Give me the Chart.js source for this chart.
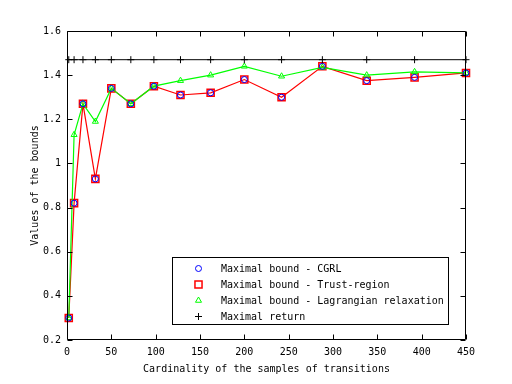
<!DOCTYPE html>
<html>
<head>
<meta charset="utf-8">
<script src="https://cdn.jsdelivr.net/npm/chart.js@4/dist/chart.umd.min.js"></script>
<style>
html,body{margin:0;padding:0;background:#fff;}
canvas{display:block;}
</style>
</head>
<body>
<canvas id="c" width="512" height="384"></canvas>
<script>
const samples = [2, 8, 18, 32, 50, 72, 98, 128, 162, 200, 242, 288, 338, 392, 450];
const cgrl = [0.30, 0.82, 1.27, 0.93, 1.34, 1.27, 1.35, 1.31, 1.32, 1.38, 1.30, 1.44, 1.375, 1.39, 1.41];
const trustRegion = [0.30, 0.82, 1.27, 0.93, 1.34, 1.27, 1.35, 1.31, 1.32, 1.38, 1.30, 1.44, 1.375, 1.39, 1.41];
const lagrangian = [0.30, 1.13, 1.27, 1.19, 1.34, 1.27, 1.35, 1.375, 1.40, 1.44, 1.395, 1.435, 1.40, 1.415, 1.41];
const maxReturn = [1.47, 1.47, 1.47, 1.47, 1.47, 1.47, 1.47, 1.47, 1.47, 1.47, 1.47, 1.47, 1.47, 1.47, 1.47];
const xTicks = [0, 50, 100, 150, 200, 250, 300, 350, 400, 450];
const yTicks = [0.2, 0.4, 0.6, 0.8, 1, 1.2, 1.4, 1.6];
const labels = ['Maximal bound - CGRL', 'Maximal bound - Trust-region', 'Maximal bound - Lagrangian relaxation', 'Maximal return'];

const FONT = {family: '"DejaVu Sans Mono", monospace', size: 10};
const pts = arr => arr.map((v, i) => ({x: samples[i], y: v}));

const frame = {
  id: 'frame',
  afterDatasetsDraw(chart) {
    const {ctx, chartArea: a, scales} = chart;
    ctx.save();
    ctx.strokeStyle = '#000';
    ctx.lineWidth = 1;
    const L = Math.round(a.left) + 0.5, R = Math.round(a.right) - 0.5;
    const T = Math.round(a.top) + 0.5, B = Math.round(a.bottom) - 0.5;
    ctx.beginPath();
    ctx.rect(L, T, R - L, B - T);
    const tl = 5;
    xTicks.forEach(v => {
      const x = Math.round(scales.x.getPixelForValue(v)) + 0.5;
      ctx.moveTo(x, B); ctx.lineTo(x, B - tl);
      ctx.moveTo(x, T); ctx.lineTo(x, T + tl);
    });
    yTicks.forEach(v => {
      const y = Math.round(scales.y.getPixelForValue(v)) + 0.5;
      ctx.moveTo(L, y); ctx.lineTo(L + tl, y);
      ctx.moveTo(R, y); ctx.lineTo(R - tl, y);
    });
    ctx.stroke();
    ctx.restore();
  },
  afterDraw(chart) {
    const {ctx} = chart;
    const ds = chart.data.datasets;
    ctx.save();
    const bx = 172.5, by = 257.5, bw = 276, bh = 67;
    ctx.fillStyle = '#fff';
    ctx.fillRect(bx, by, bw, bh);
    ctx.strokeStyle = '#000';
    ctx.lineWidth = 1;
    ctx.strokeRect(bx, by, bw, bh);
    ctx.font = '10px "DejaVu Sans Mono", monospace';
    ctx.textBaseline = 'middle';
    ctx.textAlign = 'left';
    [0, 1, 2, 3].forEach((di, r) => {
      const d = ds[di];
      const y = 268.5 + r * 16;
      ctx.strokeStyle = d.borderColor;
      ctx.fillStyle = 'rgba(0,0,0,0)';
      ctx.lineWidth = d.pointBorderWidth;
      Chart.helpers.drawPoint(ctx, {pointStyle: d.pointStyle, radius: d.pointRadius, rotation: 0, borderWidth: d.pointBorderWidth}, 198.5, y);
      ctx.fillStyle = '#000';
      ctx.fillText(d.label, 221, y + 0.5);
    });
    ctx.restore();
  }
};

new Chart(document.getElementById('c'), {
  type: 'line',
  data: {
    datasets: [
      {label: labels[0], data: pts(cgrl), borderColor: '#0000ff', backgroundColor: 'rgba(0,0,0,0)', pointStyle: 'circle', pointRadius: 3, borderWidth: 1, pointBorderWidth: 1, showLine: false, clip: false, order: 1},
      {label: labels[1], data: pts(trustRegion), borderColor: '#ff0000', backgroundColor: 'rgba(0,0,0,0)', pointStyle: 'rect', pointRadius: 5, borderWidth: 1.2, pointBorderWidth: 1.5, clip: false, order: 3},
      {label: labels[2], data: pts(lagrangian), borderColor: '#00ff00', backgroundColor: 'rgba(0,0,0,0)', pointStyle: 'triangle', pointRadius: 3.5, borderWidth: 1.2, pointBorderWidth: 1, clip: false, order: 2},
      {label: labels[3], data: pts(maxReturn), borderColor: '#000000', backgroundColor: 'rgba(0,0,0,0)', pointStyle: 'cross', pointRadius: 3.5, borderWidth: 1, pointBorderWidth: 1, clip: false, order: 0}
    ]
  },
  options: {
    responsive: false,
    animation: false,
    devicePixelRatio: 1,
    layout: {padding: {left: 0, top: 31, right: 46, bottom: 0}},
    plugins: {legend: {display: false}, tooltip: {enabled: false}},
    elements: {line: {tension: 0, fill: false}},
    scales: {
      x: {
        type: 'linear', min: 0, max: 450,
        afterBuildTicks: s => { s.ticks = xTicks.map(v => ({value: v})); },
        afterFit: s => { s.height = 44; },
        grid: {display: false, drawTicks: false},
        border: {display: false},
        ticks: {color: '#000', font: FONT, padding: 6, maxRotation: 0, autoSkip: false},
        title: {display: true, text: 'Cardinality of the samples of transitions', color: '#000', font: FONT, padding: {top: 0, bottom: 9}}
      },
      y: {
        type: 'linear', min: 0.2, max: 1.6,
        afterBuildTicks: s => { s.ticks = yTicks.map(v => ({value: v})); },
        afterFit: s => { s.width = 67; },
        grid: {display: false, drawTicks: false},
        border: {display: false},
        ticks: {color: '#000', font: FONT, padding: 6, autoSkip: false, callback: v => String(v)},
        title: {display: true, text: 'Values of the bounds', color: '#000', font: FONT, padding: {top: 29, bottom: 0}}
      }
    }
  },
  plugins: [frame]
});
</script>
</body>
</html>
